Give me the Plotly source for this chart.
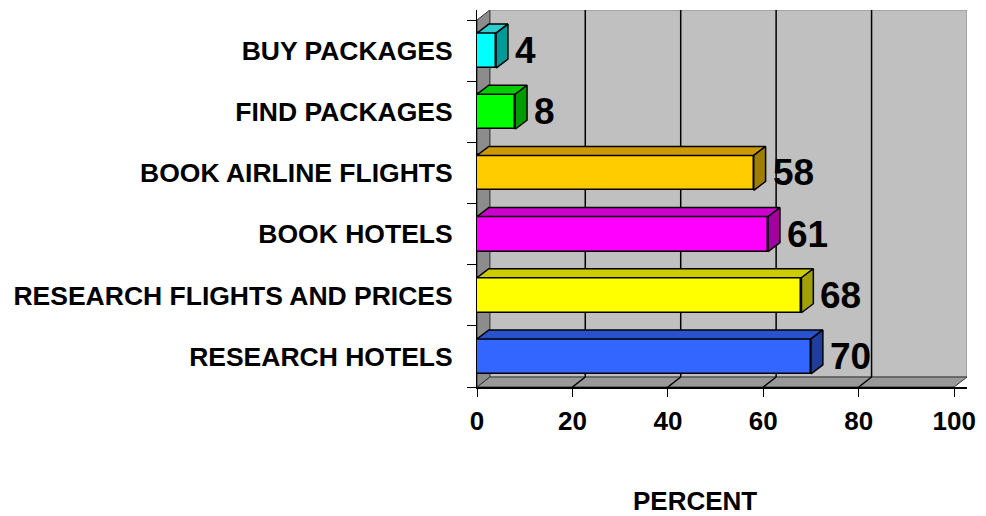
import plotly.graph_objects as go

categories = ["RESEARCH HOTELS", "RESEARCH FLIGHTS AND PRICES", "BOOK HOTELS",
              "BOOK AIRLINE FLIGHTS", "FIND PACKAGES", "BUY PACKAGES"]
values = [70, 68, 61, 58, 8, 4]
front_colors = ["#3366FF", "#FFFF00", "#FF00FF", "#FFCC00", "#00FF00", "#00FFFF"]
top_colors = ["#2A52CC", "#CCCC00", "#CC00CC", "#CC9900", "#00CC00", "#2ECCCC"]
side_colors = ["#1F3D99", "#A0A000", "#A000A0", "#A07F00", "#009900", "#009999"]
x_ticks = [0, 20, 40, 60, 80, 100]

W, H = 986, 516
ML, MR, MT, MB = 477, 13, 10, 516 - 387
PW, PH = W - ML - MR, H - MT - MB
XMAX = 102.69
pxx = PW / XMAX
DYpx = 10
pxy = (PH - DYpx) / 6.0
DX = XMAX - 100                         # wall depth in x units
DY = DYpx / pxy                         # wall depth in y units
BDX = 12 / pxx                          # bar depth
BDY = 9 / pxy
BH = 35 / pxy                           # bar thickness
Y0, Y1 = -0.5, 5.5

font = "Arial, Liberation Sans, sans-serif"
fig = go.Figure()

ys = list(range(len(categories)))
fig.add_trace(go.Bar(x=values, y=ys, base=0, orientation="h", width=BH,
                     marker=dict(color=front_colors, line=dict(color="black", width=1.5)),
                     hoverinfo="skip", showlegend=False))

for i, v in enumerate(values):
    top = i + BH / 2
    bot = i - BH / 2
    fig.add_trace(go.Scatter(
        x=[0, v, v + BDX, BDX, 0], y=[top, top, top + BDY, top + BDY, top],
        fill="toself", fillcolor=top_colors[i], mode="lines",
        line=dict(color="black", width=1.5), hoverinfo="skip", showlegend=False))
    fig.add_trace(go.Scatter(
        x=[v, v + BDX, v + BDX, v, v], y=[bot, bot + BDY, top + BDY, top, bot],
        fill="toself", fillcolor=side_colors[i], mode="lines",
        line=dict(color="black", width=1.5), hoverinfo="skip", showlegend=False))
    fig.add_annotation(x=v + BDX, y=i, text=str(v), showarrow=False,
                       xanchor="left", yanchor="middle", xshift=5, yshift=0,
                       font=dict(family=font, size=37, color="black", weight="bold"))

shapes = []
shapes.append(dict(type="rect", x0=DX, x1=100 + DX, y0=Y0 + DY, y1=Y1 + DY,
                   fillcolor="#C0C0C0", line=dict(color="#8a8a8a", width=1), layer="below"))
shapes.append(dict(type="path",
                   path=f"M0,{Y0} L100,{Y0} L{100+DX},{Y0+DY} L{DX},{Y0+DY} Z",
                   fillcolor="#999999", line=dict(color="#333333", width=1), layer="below"))
shapes.append(dict(type="path",
                   path=f"M0,{Y0} L{DX},{Y0+DY} L{DX},{Y1+DY} L0,{Y1} Z",
                   fillcolor="#8C8C8C", line=dict(color="#333333", width=1), layer="below"))
for t in x_ticks[1:-1]:
    shapes.append(dict(type="line", x0=t + DX, x1=t + DX, y0=Y0 + DY, y1=Y1 + DY,
                       line=dict(color="black", width=1.5), layer="below"))
    shapes.append(dict(type="line", x0=t + DX, x1=t, y0=Y0 + DY, y1=Y0,
                       line=dict(color="black", width=1.5), layer="below"))
fig.update_layout(shapes=shapes)

# axis title placed at page coords (698, 501)
fig.add_annotation(x=(698 - ML) / PW, y=-(501 - (MT + PH)) / PH,
                   xref="paper", yref="paper", text="PERCENT", xanchor="center", yanchor="middle",
                   showarrow=False, font=dict(family=font, size=26, color="black", weight="bold"))

fig.update_layout(
    width=W, height=H,
    margin=dict(l=ML, r=MR, t=MT, b=MB, pad=0),
    paper_bgcolor="white", plot_bgcolor="white",
    bargap=0, barmode="overlay",
    xaxis=dict(range=[0, XMAX], tickvals=x_ticks, ticktext=[str(t) for t in x_ticks],
               ticks="outside", ticklen=8, tickcolor="black", tickwidth=1,
               showgrid=False, zeroline=False, showline=True, linecolor="black", linewidth=1.5,
               tickfont=dict(family=font, size=26, color="black", weight="bold"),
               ticklabelstandoff=2, fixedrange=True),
    yaxis=dict(range=[Y0, Y1 + DY], tickvals=ys, ticktext=categories, ticks="",
               showgrid=False, zeroline=False, showline=True, linecolor="black", linewidth=1,
               tickfont=dict(family=font, size=26.5, color="black", weight="bold"),
               ticklabelstandoff=18,
               minor=dict(tickmode="array", tickvals=[k - 0.5 for k in range(7)],
                          ticks="outside", ticklen=9, tickcolor="black", tickwidth=1),
               fixedrange=True),
)

fig.write_html("out.html", config={"displayModeBar": False},
               post_script="document.body.style.margin='0';document.body.style.overflow='hidden';")
